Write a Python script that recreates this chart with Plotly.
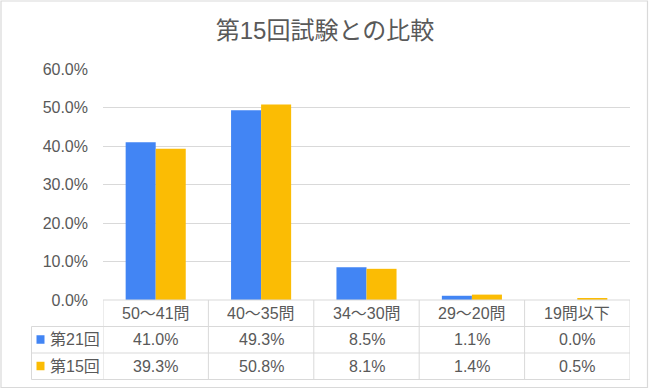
import plotly.graph_objects as go

# ---- data ----
title_text = "第15回試験との比較"
categories = ["50〜41問", "40〜35問", "34〜30問", "29〜20問", "19問以下"]
series_names = ["第21回", "第15回"]
series_21 = [41.0, 49.3, 8.5, 1.1, 0.0]
series_15 = [39.3, 50.8, 8.1, 1.4, 0.5]
y_ticks = [0, 10, 20, 30, 40, 50, 60]
y_tick_labels = ["0.0%", "10.0%", "20.0%", "30.0%", "40.0%", "50.0%", "60.0%"]

# ---- style ----
W, H = 650, 390
L, R, T, B = 103, 20, 69, 90
PW, PH = W - L - R, H - T - B
colors = ["#4285F4", "#FBBC04"]
grid = "#d9d9d9"
txt = "#595959"
FONT = "Liberation Sans, Arial, Noto Sans CJK JP, sans-serif"


def px(x):
    return (x - L) / PW


def py(y):
    return (H - B - y) / PH


fig = go.Figure()
for name, vals, c in zip(series_names, [series_21, series_15], colors):
    fig.add_trace(go.Bar(x=list(range(len(categories))), y=[v / 100 for v in vals],
                         name=name, marker=dict(color=c, line=dict(width=0)),
                         hoverinfo="skip"))

shapes = []
annotations = []
n = len(categories)
row_y = [300, 326.5, 353, 379.5]
# horizontal table lines
shapes.append(dict(type="line", xref="x", yref="paper", x0=-0.5, x1=n - 0.5,
                   y0=py(row_y[0]), y1=py(row_y[0]), line=dict(color=grid, width=1)))
for yy in row_y[1:]:
    shapes.append(dict(type="line", xref="paper", yref="paper", x0=px(31.5), x1=1,
                       y0=py(yy), y1=py(yy), line=dict(color=grid, width=1)))
# vertical table lines
for i in range(n + 1):
    shapes.append(dict(type="line", xref="x", yref="paper", x0=i - 0.5, x1=i - 0.5,
                       y0=py(row_y[0]), y1=py(row_y[3]), line=dict(color=grid, width=1)))
shapes.append(dict(type="line", xref="paper", yref="paper", x0=px(31.5), x1=px(31.5),
                   y0=py(row_y[1]), y1=py(row_y[3]), line=dict(color=grid, width=1)))
# outer border
shapes.append(dict(type="rect", xref="paper", yref="paper", x0=px(1), x1=px(647.5),
                   y0=py(387.5), y1=py(1), line=dict(color=grid, width=1.2)))

# category header row
for i, c in enumerate(categories):
    annotations.append(dict(x=i, y=py((row_y[0] + row_y[1]) / 2), xref="x", yref="paper",
                            text=c, showarrow=False, font=dict(size=16, color=txt, family=FONT),
                            xanchor="center", yanchor="middle"))
# data rows
for r, (name, vals, col) in enumerate(zip(series_names, [series_21, series_15], colors)):
    yc = (row_y[r + 1] + row_y[r + 2]) / 2
    for i, v in enumerate(vals):
        annotations.append(dict(x=i, y=py(yc), xref="x", yref="paper",
                                text=f"{v:.1f}%", showarrow=False,
                                font=dict(size=16, color=txt, family=FONT),
                                xanchor="center", yanchor="middle"))
    # legend key
    shapes.append(dict(type="rect", xref="paper", yref="paper", x0=px(36.5), x1=px(44.5),
                       y0=py(yc - 4.5), y1=py(yc + 4), fillcolor=col, line=dict(width=0)))
    annotations.append(dict(x=px(47.5), y=py(yc), xref="paper", yref="paper", text=name,
                            showarrow=False, font=dict(size=16, color=txt, family=FONT),
                            xanchor="left", yanchor="middle"))

fig.update_layout(
    width=W, height=H,
    margin=dict(l=L, r=R, t=T, b=B, autoexpand=False),
    paper_bgcolor="white", plot_bgcolor="white",
    showlegend=False,
    barmode="group", bargap=0.43, bargroupgap=0,
    title=dict(text=title_text, x=0.5, xanchor="center", xref="container",
               y=1 - 30.5 / H, yanchor="middle", yref="container",
               font=dict(size=24, color=txt, family=FONT)),
    xaxis=dict(range=[-0.5, n - 0.5], showticklabels=False, showgrid=False,
               zeroline=False, showline=False, ticks="", fixedrange=True),
    yaxis=dict(range=[0, 0.6], tickvals=[v / 100 for v in y_ticks], ticktext=y_tick_labels,
               showgrid=True, gridcolor=grid, gridwidth=1, zeroline=False, showline=False,
               ticks="", ticklabelstandoff=14,
               tickfont=dict(size=16, color=txt, family=FONT), fixedrange=True),
    shapes=shapes, annotations=annotations,
)

fig.write_html("out.html", config={"displayModeBar": False},
               post_script="document.body.style.margin='0';document.body.style.overflow='hidden';")
